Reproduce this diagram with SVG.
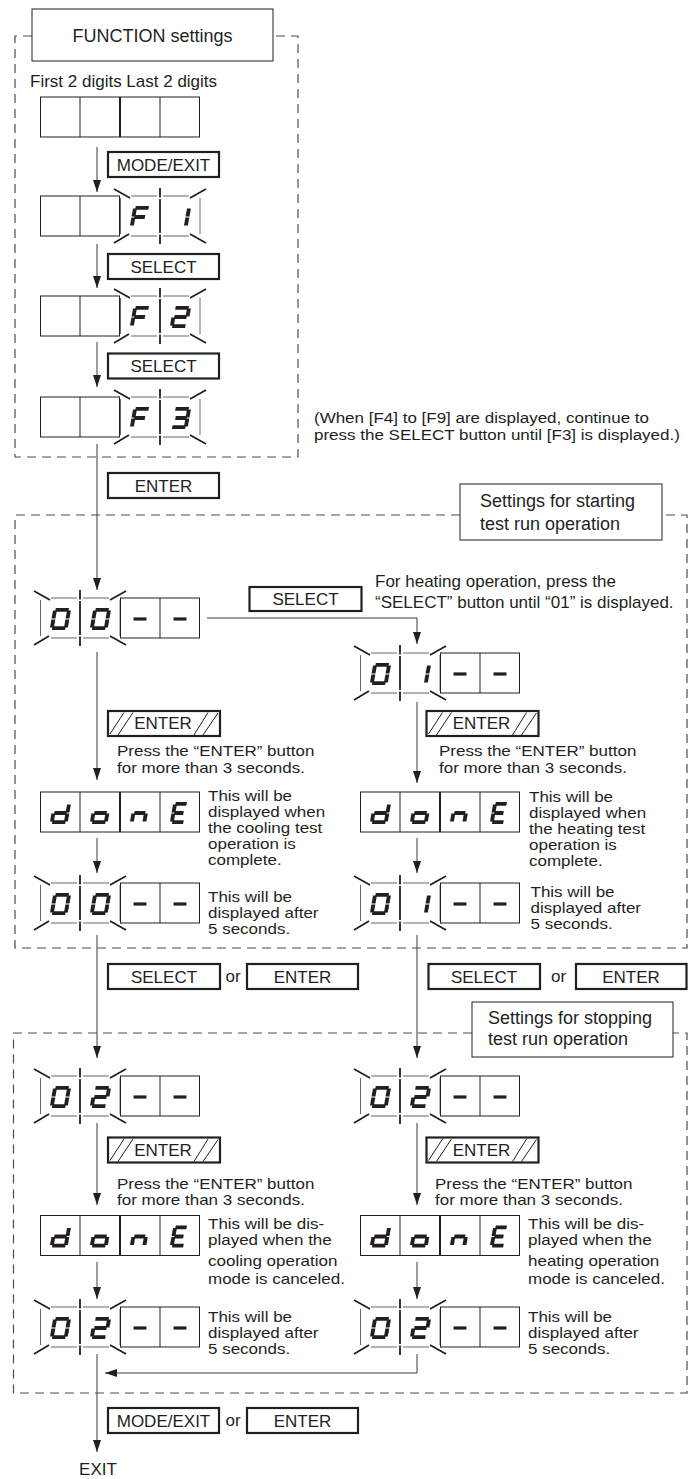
<svg xmlns="http://www.w3.org/2000/svg" width="699" height="1479" viewBox="0 0 699 1479">
<style>
text{font-family:"Liberation Sans",Arial,Helvetica,sans-serif;font-size:17px;fill:#231f20}
.c{text-anchor:middle}
.big{font-size:18px}
.s{font-size:14.2px}
.s2{font-size:14.5px}
.btn{fill:#fff;stroke:#231f20;stroke-width:2.2}
.ttl{fill:#fff;stroke:#231f20;stroke-width:1}
.cell{fill:#fff;stroke:#231f20;stroke-width:1}
.frame{fill:none;stroke:#4d4d4d;stroke-width:1.2;stroke-dasharray:9 6}
.ln{fill:none;stroke:#3a3a3a;stroke-width:1}
.seg line{stroke:#231f20;stroke-width:3.9}
.dash{stroke:#231f20;stroke-width:3.2}
.ray line{stroke:#231f20;stroke-width:1.8}
.bo line{stroke:#555;stroke-width:0.9}
.hatch line{stroke:#231f20;stroke-width:1}
</style>
<defs>
<marker id="ah" markerWidth="12" markerHeight="8" refX="12" refY="4" orient="auto" markerUnits="userSpaceOnUse"><path d="M0,0 L12,4 L0,8 z" fill="#231f20"/></marker>
<g id="G0" class="seg" transform="skewX(-10)"><line x1="2.4" y1="-20.1" x2="15.6" y2="-20.1"/><line x1="16" y1="-19.6" x2="16" y2="-11.4"/><line x1="16" y1="-10.6" x2="16" y2="-2.4"/><line x1="2.4" y1="-1.9" x2="15.6" y2="-1.9"/><line x1="2" y1="-10.6" x2="2" y2="-2.4"/><line x1="2" y1="-19.6" x2="2" y2="-11.4"/></g>
<g id="G1" class="seg" transform="skewX(-10)"><line x1="16" y1="-19.6" x2="16" y2="-11.4"/><line x1="16" y1="-10.6" x2="16" y2="-2.4"/></g>
<g id="G2" class="seg" transform="skewX(-10)"><line x1="2.4" y1="-20.1" x2="15.6" y2="-20.1"/><line x1="16" y1="-19.6" x2="16" y2="-11.4"/><line x1="2.8" y1="-11" x2="15.2" y2="-11"/><line x1="2" y1="-10.6" x2="2" y2="-2.4"/><line x1="2.4" y1="-1.9" x2="15.6" y2="-1.9"/></g>
<g id="G3" class="seg" transform="skewX(-10)"><line x1="2.4" y1="-20.1" x2="15.6" y2="-20.1"/><line x1="16" y1="-19.6" x2="16" y2="-11.4"/><line x1="4" y1="-11" x2="15.2" y2="-11"/><line x1="16" y1="-10.6" x2="16" y2="-2.4"/><line x1="2.4" y1="-1.9" x2="15.6" y2="-1.9"/></g>
<g id="GF" class="seg" transform="skewX(-10)"><line x1="2.4" y1="-20.1" x2="15.6" y2="-20.1"/><line x1="2" y1="-19.6" x2="2" y2="-11.4"/><line x1="2.8" y1="-11" x2="13.5" y2="-11"/><line x1="2" y1="-10.6" x2="2" y2="-2.4"/></g>
<g id="Gd" class="seg" transform="skewX(-10)"><line x1="16" y1="-19.6" x2="16" y2="-11.4"/><line x1="16" y1="-10.6" x2="16" y2="-2.4"/><line x1="2.4" y1="-1.9" x2="15.6" y2="-1.9"/><line x1="2" y1="-10.6" x2="2" y2="-2.4"/><line x1="2.8" y1="-11" x2="15.2" y2="-11"/></g>
<g id="Go" class="seg" transform="skewX(-10)"><line x1="16" y1="-10.6" x2="16" y2="-2.4"/><line x1="2.4" y1="-1.9" x2="15.6" y2="-1.9"/><line x1="2" y1="-10.6" x2="2" y2="-2.4"/><line x1="2.8" y1="-11" x2="15.2" y2="-11"/></g>
<g id="Gn" class="seg" transform="skewX(-10)"><line x1="14.5" y1="-10.6" x2="14.5" y2="-2.4"/><line x1="2" y1="-10.6" x2="2" y2="-2.4"/><line x1="2.8" y1="-11" x2="13.8" y2="-11"/></g>
<g id="GE" class="seg" transform="skewX(-10)"><line x1="2.4" y1="-20.1" x2="13.6" y2="-20.1"/><line x1="2" y1="-19.6" x2="2" y2="-11.4"/><line x1="2.8" y1="-11" x2="12" y2="-11"/><line x1="2" y1="-10.6" x2="2" y2="-2.4"/><line x1="2.4" y1="-1.9" x2="13.6" y2="-1.9"/></g>
<line id="dsh" class="dash" x1="13.5" y1="21" x2="26.5" y2="21"/>
<g id="pair"><rect class="cell" x="0.5" y="0" width="79" height="40"/><line class="cell" x1="40" y1="0" x2="40" y2="40"/></g>
<g id="blink">
<g class="ray"><line x1="-6" y1="-7" x2="10" y2="2"/><line x1="-6" y1="47" x2="9" y2="38"/><line x1="86" y1="-7" x2="70" y2="2"/><line x1="70" y1="38" x2="86" y2="47"/><line x1="40" y1="-8" x2="40" y2="1.5"/><line x1="40" y1="3" x2="40" y2="37"/><line x1="40" y1="38.5" x2="40" y2="48"/></g>
<g class="bo"><line x1="0.5" y1="2" x2="0.5" y2="38"/><line x1="80" y1="2" x2="80" y2="38"/><line x1="11" y1="0" x2="37" y2="0"/><line x1="43" y1="0" x2="69" y2="0"/><line x1="11" y1="40" x2="37" y2="40"/><line x1="43" y1="40" x2="69" y2="40"/></g>
</g>
<g id="hb"><rect class="btn" x="0" y="0" width="112" height="25"/><g class="hatch"><line x1="2" y1="23" x2="16" y2="1.5"/><line x1="10" y1="24" x2="25" y2="1.5"/><line x1="86" y1="24" x2="100" y2="1.5"/><line x1="95" y1="24" x2="110" y2="2"/></g></g>
</defs>

<g id="connectors" class="ln">
<line x1="97" y1="147" x2="97" y2="192" marker-end="url(#ah)"/>
<line x1="97" y1="244" x2="97" y2="288" marker-end="url(#ah)"/>
<line x1="97" y1="342" x2="97" y2="387" marker-end="url(#ah)"/>
<line x1="97" y1="444" x2="97" y2="590" marker-end="url(#ah)"/>
<path d="M207,618 H417 V644" marker-end="url(#ah)"/>
<line x1="97" y1="652" x2="97" y2="780" marker-end="url(#ah)"/>
<line x1="417" y1="702" x2="417" y2="783" marker-end="url(#ah)"/>
<line x1="97" y1="838" x2="97" y2="873" marker-end="url(#ah)"/>
<line x1="417" y1="838" x2="417" y2="873" marker-end="url(#ah)"/>
<line x1="97" y1="935" x2="97" y2="1058" marker-end="url(#ah)"/>
<line x1="417" y1="935" x2="417" y2="1058" marker-end="url(#ah)"/>
<line x1="97" y1="1123" x2="97" y2="1205" marker-end="url(#ah)"/>
<line x1="417" y1="1123" x2="417" y2="1205" marker-end="url(#ah)"/>
<line x1="97" y1="1262" x2="97" y2="1299" marker-end="url(#ah)"/>
<line x1="417" y1="1262" x2="417" y2="1299" marker-end="url(#ah)"/>
<path d="M417,1354 V1373 H105" marker-end="url(#ah)"/>
<line x1="97" y1="1354" x2="97" y2="1452" marker-end="url(#ah)"/>
</g>

<g id="frames">
<path class="frame" d="M32,36 H15 V457 H298 V36 H273"/>
<path class="frame" d="M460,515 H15 V948 H687 V515 H662"/>
<path class="frame" d="M472,1033 H13.5 V1393 H687 V1033 H673"/>
</g>

<g id="title-function"><rect class="ttl" x="32" y="9" width="241" height="52"/><text class="c big" x="152.5" y="41.5">FUNCTION settings</text></g>
<g id="title-start"><rect class="ttl" x="460" y="484" width="202" height="56"/><text class="big" x="480" y="506.7">Settings for starting<tspan x="480" dy="23.3">test run operation</tspan></text></g>
<g id="title-stop"><rect class="ttl" x="472" y="1002" width="201" height="55"/><text class="big" x="488" y="1023.5">Settings for stopping<tspan x="488" dy="21.5">test run operation</tspan></text></g>

<g id="label-digits"><text x="30" y="87">First 2 digits Last 2 digits</text></g>

<g id="disp-blank"><use href="#pair" x="40" y="97"/><use href="#pair" x="120" y="97"/></g>
<g id="btn-mode1"><rect class="btn" x="108" y="152" width="111" height="25"/><text class="c" x="163.5" y="170.5">MODE/EXIT</text></g>
<g id="disp-F1"><use href="#pair" x="40" y="196"/><use href="#blink" x="120" y="196"/><use href="#GF" x="129.5" y="228"/><use href="#G1" x="169.5" y="228"/></g>
<g id="btn-select1"><rect class="btn" x="108" y="254" width="111" height="25"/><text class="c" x="163.5" y="272.5">SELECT</text></g>
<g id="disp-F2"><use href="#pair" x="40" y="296"/><use href="#blink" x="120" y="296"/><use href="#GF" x="129.5" y="328"/><use href="#G2" x="169.5" y="328"/></g>
<g id="btn-select2"><rect class="btn" x="108" y="353.5" width="111" height="25"/><text class="c" x="163.5" y="372">SELECT</text></g>
<g id="disp-F3"><use href="#pair" x="40" y="397"/><use href="#blink" x="120" y="397"/><use href="#GF" x="129.5" y="429"/><use href="#G3" x="169.5" y="429"/></g>
<g id="note-f4" transform="translate(314,0) scale(1.172,1)"><text class="s2" x="0" y="423.5">(When [F4] to [F9] are displayed, continue to<tspan x="0" dy="16.5">press the SELECT button until [F3] is displayed.)</tspan></text></g>
<g id="btn-enter1"><rect class="btn" x="108" y="473" width="111" height="25"/><text class="c" x="163.5" y="491.5">ENTER</text></g>

<g id="disp-00a"><use href="#blink" x="40" y="598"/><use href="#pair" x="120" y="598"/><use href="#G0" x="49.5" y="630"/><use href="#G0" x="89.5" y="630"/><use href="#dsh" x="120" y="598"/><use href="#dsh" x="160" y="598"/></g>
<g id="btn-select3"><rect class="btn" x="249.5" y="587" width="112" height="24"/><text class="c" x="305.5" y="605">SELECT</text></g>
<g id="note-heating"><text x="375" y="587.3">For heating operation, press the<tspan x="375" dy="21">“SELECT” button until “01” is displayed.</tspan></text></g>
<g id="disp-01a"><use href="#blink" x="360" y="653"/><use href="#pair" x="440" y="653"/><use href="#G0" x="369.5" y="685"/><use href="#G1" x="409.5" y="685"/><use href="#dsh" x="440" y="653"/><use href="#dsh" x="480" y="653"/></g>

<g id="btn-enter-hold1"><use href="#hb" x="108" y="711"/><text class="c" x="163" y="729">ENTER</text></g>
<g id="note-press1" transform="translate(117,0) scale(1.197,1)"><text class="s" x="0" y="756">Press the “ENTER” button<tspan x="0" dy="16.7">for more than 3 seconds.</tspan></text></g>
<g id="btn-enter-hold2"><use href="#hb" x="426.5" y="711"/><text class="c" x="481.5" y="729">ENTER</text></g>
<g id="note-press2" transform="translate(439,0) scale(1.197,1)"><text class="s" x="0" y="756">Press the “ENTER” button<tspan x="0" dy="16.7">for more than 3 seconds.</tspan></text></g>

<g id="disp-done1"><use href="#pair" x="40" y="792"/><use href="#pair" x="120" y="792"/><use href="#Gd" x="49.5" y="824"/><use href="#Go" x="89.5" y="824"/><use href="#Gn" x="129.5" y="824"/><use href="#GE" x="169.5" y="824"/></g>
<g id="note-done1" transform="translate(208,0) scale(1.197,1)"><text class="s" x="0" y="800.7">This will be<tspan x="0" dy="16.1">displayed when</tspan><tspan x="0" dy="16.1">the cooling test</tspan><tspan x="0" dy="16.1">operation is</tspan><tspan x="0" dy="16">complete.</tspan></text></g>
<g id="disp-done2"><use href="#pair" x="360" y="792"/><use href="#pair" x="440" y="792"/><use href="#Gd" x="369.5" y="824"/><use href="#Go" x="409.5" y="824"/><use href="#Gn" x="449.5" y="824"/><use href="#GE" x="489.5" y="824"/></g>
<g id="note-done2" transform="translate(529,0) scale(1.197,1)"><text class="s" x="0" y="802.5">This will be<tspan x="0" dy="16">displayed when</tspan><tspan x="0" dy="16">the heating test</tspan><tspan x="0" dy="16">operation is</tspan><tspan x="0" dy="16">complete.</tspan></text></g>

<g id="disp-00b"><use href="#blink" x="40" y="883"/><use href="#pair" x="120" y="883"/><use href="#G0" x="49.5" y="915"/><use href="#G0" x="89.5" y="915"/><use href="#dsh" x="120" y="883"/><use href="#dsh" x="160" y="883"/></g>
<g id="note-after1" transform="translate(208,0) scale(1.197,1)"><text class="s" x="0" y="901.7">This will be<tspan x="0" dy="16">displayed after</tspan><tspan x="0" dy="16">5 seconds.</tspan></text></g>
<g id="disp-01b"><use href="#blink" x="360" y="883"/><use href="#pair" x="440" y="883"/><use href="#G0" x="369.5" y="915"/><use href="#G1" x="409.5" y="915"/><use href="#dsh" x="440" y="883"/><use href="#dsh" x="480" y="883"/></g>
<g id="note-after2" transform="translate(530.5,0) scale(1.197,1)"><text class="s" x="0" y="897">This will be<tspan x="0" dy="16">displayed after</tspan><tspan x="0" dy="16">5 seconds.</tspan></text></g>

<g id="btns-or1"><rect class="btn" x="108" y="964" width="112" height="25"/><text class="c" x="164" y="982.5">SELECT</text><text class="c" x="233" y="982">or</text><rect class="btn" x="247" y="964" width="111" height="25"/><text class="c" x="302.5" y="982.5">ENTER</text></g>
<g id="btns-or2"><rect class="btn" x="428.5" y="964" width="111.5" height="25"/><text class="c" x="484" y="982.5">SELECT</text><text class="c" x="558.5" y="982">or</text><rect class="btn" x="576" y="964" width="110.5" height="25"/><text class="c" x="631" y="982.5">ENTER</text></g>

<g id="disp-02a"><use href="#blink" x="40" y="1076"/><use href="#pair" x="120" y="1076"/><use href="#G0" x="49.5" y="1108"/><use href="#G2" x="89.5" y="1108"/><use href="#dsh" x="120" y="1076"/><use href="#dsh" x="160" y="1076"/></g>
<g id="disp-02c"><use href="#blink" x="360" y="1076"/><use href="#pair" x="440" y="1076"/><use href="#G0" x="369.5" y="1108"/><use href="#G2" x="409.5" y="1108"/><use href="#dsh" x="440" y="1076"/><use href="#dsh" x="480" y="1076"/></g>

<g id="btn-enter-hold3"><use href="#hb" x="108" y="1137.5"/><text class="c" x="163" y="1155.5">ENTER</text></g>
<g id="note-press3" transform="translate(117,0) scale(1.197,1)"><text class="s" x="0" y="1189">Press the “ENTER” button<tspan x="0" dy="16">for more than 3 seconds.</tspan></text></g>
<g id="btn-enter-hold4"><use href="#hb" x="426.5" y="1137.5"/><text class="c" x="481.5" y="1155.5">ENTER</text></g>
<g id="note-press4" transform="translate(435,0) scale(1.197,1)"><text class="s" x="0" y="1189">Press the “ENTER” button<tspan x="0" dy="16">for more than 3 seconds.</tspan></text></g>

<g id="disp-done3"><use href="#pair" x="40" y="1215.5"/><use href="#pair" x="120" y="1215.5"/><use href="#Gd" x="49.5" y="1247.5"/><use href="#Go" x="89.5" y="1247.5"/><use href="#Gn" x="129.5" y="1247.5"/><use href="#GE" x="169.5" y="1247.5"/></g>
<g id="note-done3" transform="translate(208,0) scale(1.197,1)"><text class="s" x="0" y="1229">This will be dis-<tspan x="0" dy="16.5">played when the</tspan><tspan x="0" dy="20.5">cooling operation</tspan><tspan x="0" dy="18.5">mode is canceled.</tspan></text></g>
<g id="disp-done4"><use href="#pair" x="360" y="1215.5"/><use href="#pair" x="440" y="1215.5"/><use href="#Gd" x="369.5" y="1247.5"/><use href="#Go" x="409.5" y="1247.5"/><use href="#Gn" x="449.5" y="1247.5"/><use href="#GE" x="489.5" y="1247.5"/></g>
<g id="note-done4" transform="translate(528,0) scale(1.197,1)"><text class="s" x="0" y="1229">This will be dis-<tspan x="0" dy="16.5">played when the</tspan><tspan x="0" dy="20.5">heating operation</tspan><tspan x="0" dy="18.5">mode is canceled.</tspan></text></g>

<g id="disp-02b"><use href="#blink" x="40" y="1307"/><use href="#pair" x="120" y="1307"/><use href="#G0" x="49.5" y="1339"/><use href="#G2" x="89.5" y="1339"/><use href="#dsh" x="120" y="1307"/><use href="#dsh" x="160" y="1307"/></g>
<g id="note-after3" transform="translate(208,0) scale(1.197,1)"><text class="s" x="0" y="1321.7">This will be<tspan x="0" dy="16">displayed after</tspan><tspan x="0" dy="16">5 seconds.</tspan></text></g>
<g id="disp-02d"><use href="#blink" x="360" y="1307"/><use href="#pair" x="440" y="1307"/><use href="#G0" x="369.5" y="1339"/><use href="#G2" x="409.5" y="1339"/><use href="#dsh" x="440" y="1307"/><use href="#dsh" x="480" y="1307"/></g>
<g id="note-after4" transform="translate(528,0) scale(1.197,1)"><text class="s" x="0" y="1321.7">This will be<tspan x="0" dy="16">displayed after</tspan><tspan x="0" dy="16">5 seconds.</tspan></text></g>

<g id="btns-or3"><rect class="btn" x="108" y="1408" width="111" height="25"/><text class="c" x="163.5" y="1426.5">MODE/EXIT</text><text class="c" x="233" y="1426">or</text><rect class="btn" x="247" y="1408" width="111" height="25"/><text class="c" x="302.5" y="1426.5">ENTER</text></g>
<g id="exit"><text class="c" x="98" y="1475">EXIT</text></g>
</svg>
